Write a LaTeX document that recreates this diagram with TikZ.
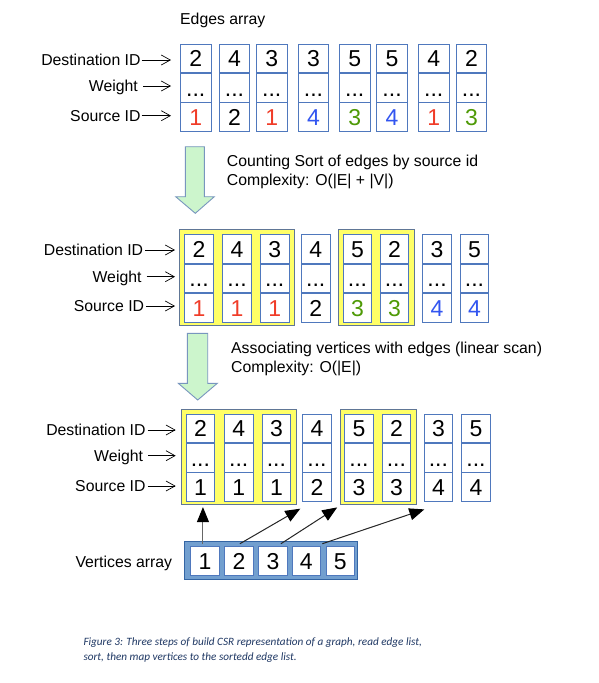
\documentclass[tikz,border=0pt]{standalone}
\usepackage{fontspec}
\setmainfont{Liberation Sans}
\newfontfamily\capfont{Carlito}
\usetikzlibrary{arrows.meta}
\definecolor{cellblue}{RGB}{79,120,189}
\definecolor{yfill}{RGB}{255,255,102}
\definecolor{yborder}{RGB}{96,118,150}
\definecolor{digred}{RGB}{240,60,40}
\definecolor{diggreen}{RGB}{78,154,6}
\definecolor{digblue}{RGB}{50,85,240}
\definecolor{gfill}{RGB}{204,245,204}
\definecolor{gborder}{RGB}{120,150,190}
\definecolor{vfill}{RGB}{114,159,207}
\definecolor{vborder}{RGB}{52,101,164}
\definecolor{capcol}{RGB}{31,56,100}
\newcommand{\cw}{30pt}
\newcommand{\ch}{28pt}
\newcommand{\edgecol}[6]{%
  \node[cell, minimum width=\cw, minimum height=\ch, anchor=north west] (#1d) at (#2,#3) {#4};
  \node[cell, minimum width=\cw, minimum height=\ch, anchor=north] (#1w) at (#1d.south) {...};
  \node[cell, minimum width=\cw, minimum height=\ch, anchor=north, text=#5] (#1s) at (#1w.south) {#6};
}
\tikzset{
  cell/.style={draw=cellblue, line width=0.8pt, fill=white, inner sep=0pt,
    font=\fontsize{23}{27}\selectfont, text height=16.5pt, text depth=0pt},
  ybox/.style={draw=yborder, line width=0.8pt, fill=yfill, inner sep=0pt, anchor=north west},
  lab/.style={anchor=east, inner sep=0pt, text height=11.3pt, text depth=0pt,
    font=\fontsize{15.8}{19}\selectfont},
  steptxt/.style={anchor=west, inner sep=0pt, text height=11.3pt, text depth=0pt,
    font=\fontsize{15.8}{19}\selectfont},
  labarrow/.style={line width=0.7pt, -{Straight Barb[length=9pt,width=10pt]}},
  garrow/.style={draw=gborder, line width=0.9pt, fill=gfill, line join=miter},
  vbox/.style={draw=vborder, line width=1pt, fill=vfill, inner sep=0pt, anchor=north west},
  vcell/.style={draw=cellblue, line width=0.8pt, fill=white, inner sep=0pt, anchor=north west,
    minimum width=28.5pt, minimum height=29.3pt,
    font=\fontsize{23}{27}\selectfont, text height=16.5pt, text depth=0pt},
  varrow/.style={line width=1pt, -{Triangle[length=15pt,width=12pt,color=black,fill=black]}},
  captxt/.style={anchor=west, inner sep=0pt, text height=7pt, text depth=0pt,
    font=\capfont\itshape\fontsize{11.2}{14}\selectfont, text=capcol}
}
\begin{document}
\begin{tikzpicture}[x=1pt,y=-1pt]
\useasboundingbox (0,0) rectangle (598,683);
\fill[white] (0,0) rectangle (598,683);

% ---------- Row 1 ----------
\node[steptxt] (title) at (180,19.3) {Edges array};
\renewcommand{\cw}{30.7pt}\renewcommand{\ch}{28.4pt}
\edgecol{a1}{180}{44}{2}{digred}{1}
\edgecol{a2}{218.7}{44}{4}{black}{2}
\edgecol{a3}{256}{44}{3}{digred}{1}
\edgecol{a4}{297.7}{44}{3}{digblue}{4}
\edgecol{a5}{339}{44}{5}{diggreen}{3}
\edgecol{a6}{376.3}{44}{5}{digblue}{4}
\edgecol{a7}{418}{44}{4}{digred}{1}
\edgecol{a8}{455.7}{44}{2}{diggreen}{3}
\node[lab] (l1d) at (140.7,60) {Destination ID};
\node[lab] (l1w) at (138,86) {Weight};
\node[lab] (l1s) at (140.7,115.7) {Source ID};
\draw[labarrow] ([xshift=1pt]l1d.east) -- ([xshift=-9pt]a1d.west |- l1d.east);
\draw[labarrow] ([xshift=5pt]l1w.east) -- ([xshift=-9pt]a1w.west |- l1w.east);
\draw[labarrow] ([xshift=1pt]l1s.east) -- ([xshift=-9pt]a1s.west |- l1s.east);

% ---------- Step 1 ----------
\draw[garrow] (185.3,146.7) -- (204.3,146.7) -- (204.3,196.7) -- (214.3,196.7)
  -- (195.3,213.3) -- (175.7,196.7) -- (185.3,196.7) -- cycle;
\node[steptxt] (t1a) at (226.7,161) {Counting Sort of edges by source id};
\node[steptxt] (t1b) at (226.7,180) {Complexity: O(|E| + |V|)};

% ---------- Row 2 ----------
\node[ybox, minimum width=115pt, minimum height=96pt] (y2a) at (179.3,229) {};
\node[ybox, minimum width=76.6pt, minimum height=96pt] (y2b) at (337.7,229) {};
\renewcommand{\cw}{28.7pt}\renewcommand{\ch}{28.77pt}
\edgecol{b1}{184.3}{234}{2}{digred}{1}
\edgecol{b2}{222.3}{234}{4}{digred}{1}
\edgecol{b3}{260}{234}{3}{digred}{1}
\edgecol{b4}{301}{234}{4}{black}{2}
\edgecol{b5}{342.7}{234}{5}{diggreen}{3}
\edgecol{b6}{379.7}{234}{2}{diggreen}{3}
\edgecol{b7}{422.3}{234}{3}{digblue}{4}
\edgecol{b8}{459.7}{234}{5}{digblue}{4}
\node[lab] (l2d) at (143.3,250) {Destination ID};
\node[lab] (l2w) at (141.7,276.7) {Weight};
\node[lab] (l2s) at (144.3,306) {Source ID};
\draw[labarrow] ([xshift=2pt]l2d.east) -- ([xshift=-9.3pt]b1d.west |- l2d.east);
\draw[labarrow] ([xshift=5pt]l2w.east) -- ([xshift=-9.3pt]b1w.west |- l2w.east);
\draw[labarrow] ([xshift=2pt]l2s.east) -- ([xshift=-9.3pt]b1s.west |- l2s.east);

% ---------- Step 2 ----------
\draw[garrow] (187.3,333.3) -- (207.7,333.3) -- (207.7,383.3) -- (217.3,383.3)
  -- (197.7,400) -- (178.3,383.3) -- (187.3,383.3) -- cycle;
\node[steptxt] (t2a) at (231,348.3) {Associating vertices with edges (linear scan)};
\node[steptxt] (t2b) at (231,366.7) {Complexity: O(|E|)};

% ---------- Row 3 ----------
\node[ybox, minimum width=115.3pt, minimum height=95.3pt] (y3a) at (181,409) {};
\node[ybox, minimum width=76.6pt, minimum height=95.3pt] (y3b) at (339.7,409) {};
\renewcommand{\cw}{28.6pt}\renewcommand{\ch}{28.43pt}
\edgecol{c1}{185.7}{414}{2}{black}{1}
\edgecol{c2}{224}{414}{4}{black}{1}
\edgecol{c3}{261.7}{414}{3}{black}{1}
\edgecol{c4}{302.3}{414}{4}{black}{2}
\edgecol{c5}{344.3}{414}{5}{black}{3}
\edgecol{c6}{381.7}{414}{2}{black}{3}
\edgecol{c7}{423.7}{414}{3}{black}{4}
\edgecol{c8}{461.3}{414}{5}{black}{4}
\node[lab] (l3d) at (145.7,430) {Destination ID};
\node[lab] (l3w) at (143.3,455.7) {Weight};
\node[lab] (l3s) at (145.7,486) {Source ID};
\draw[labarrow] ([xshift=2pt]l3d.east) -- ([xshift=-10pt]c1d.west |- l3d.east);
\draw[labarrow] ([xshift=5pt]l3w.east) -- ([xshift=-10pt]c1w.west |- l3w.east);
\draw[labarrow] ([xshift=2pt]l3s.east) -- ([xshift=-10pt]c1s.west |- l3s.east);

% ---------- Vertices array ----------
\node[vbox, minimum width=173pt, minimum height=38pt] (va) at (184.3,541.3) {};
\node[vcell] (v1) at (190.3,545.7) {1};
\node[vcell] (v2) at (224.3,545.7) {2};
\node[vcell] (v3) at (258.3,545.7) {3};
\node[vcell] (v4) at (291.7,545.7) {4};
\node[vcell] (v5) at (325.7,545.7) {5};
\node[lab] (vlab) at (172.3,562.3) {Vertices array};

\draw[varrow, draw=black!60] ([xshift=-2pt,yshift=2pt]v1.north) -- ([xshift=-2pt,yshift=-2pt]v1.north |- y3a.south);
\draw[varrow, draw=black!85] ([xshift=1pt,yshift=2pt]v2.north) -- ([xshift=-2pt,yshift=-7pt]c4s.south west);
\draw[varrow, draw=black!85] ([xshift=8pt,yshift=2pt]v3.north) -- ([xshift=-2.5pt,yshift=-2.3pt]y3b.south west);
\draw[varrow, draw=black!85] ([xshift=16pt,yshift=2pt]v4.north) -- ([xshift=0.6pt,yshift=-7.7pt]c7s.south west);

% ---------- Caption ----------
\node[captxt] (cap1) at (83.3,641.7) {Figure 3: Three steps of build CSR representation of a graph, read edge list,};
\node[captxt] (cap2) at (83.3,656.7) {sort, then map vertices to the sortedd edge list.};
\end{tikzpicture}
\end{document}
